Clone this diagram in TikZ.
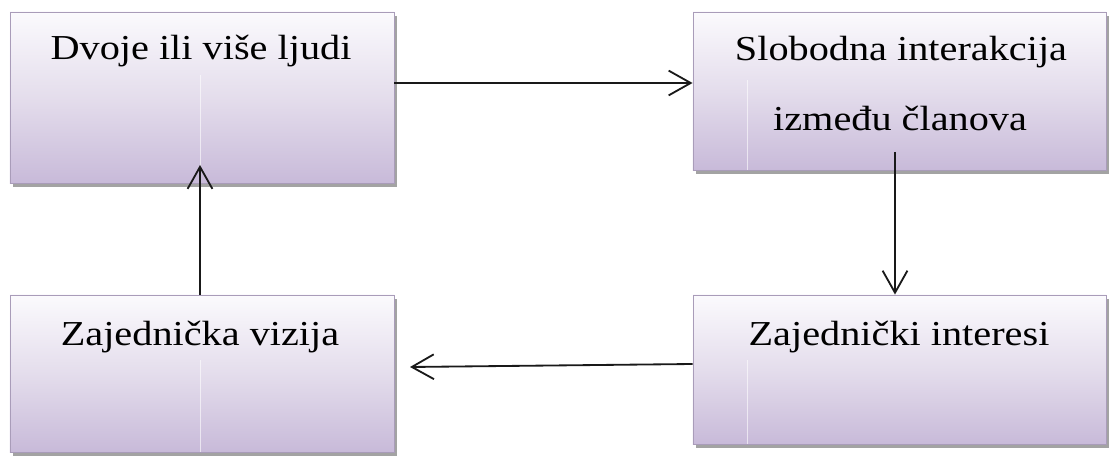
\documentclass[tikz,border=0pt]{standalone}
\usepackage{fontspec}
\setmainfont{Liberation Serif}
\usetikzlibrary{arrows.meta,shadows}
\definecolor{lavtop}{HTML}{FBFAFD}
\definecolor{lavmid}{HTML}{E4DDEC}
\definecolor{lavbot}{HTML}{C8BAD9}
\definecolor{lavline}{HTML}{A99CB9}
\newcommand{\wide}[1]{\scalebox{1.15}[1]{#1}}
\tikzset{
  box/.style={draw=lavline, line width=0.6pt, top color=lavtop, bottom color=lavbot, middle color=lavmid,
    drop shadow={shadow xshift=0.07cm, shadow yshift=-0.1cm, fill=black!45, opacity=0.8}},
  lbl/.style={font=\fontsize{24.9}{49.8}\selectfont, anchor=base, inner sep=0pt},
  arr/.style={-{Straight Barb[length=0.55cm, width=0.62cm, line width=1.3pt]}, line width=1.3pt, black!90},
  seam/.style={white, opacity=0.6, line width=0.5pt}
}
\begin{document}
\begin{tikzpicture}[x=0.025cm, y=-0.025cm]
	\useasboundingbox (0,0) rectangle (1110,457);
	% boxes
	\node[box, minimum width=9.6cm, minimum height=4.275cm, inner sep=0pt] (b1) at (202,97.5) {};
	\node[box, minimum width=10.325cm, minimum height=3.95cm, inner sep=0pt] (b2) at (899.5,91) {};
	\node[box, minimum width=9.6cm, minimum height=3.925cm, inner sep=0pt] (b3) at (202,373.5) {};
	\node[box, minimum width=10.325cm, minimum height=3.725cm, inner sep=0pt] (b4) at (899.5,369.5) {};
	% faint seams
	\draw[seam] (200,75) -- (b1.south -| 200,0);
	\draw[seam] (747,80) -- (b2.south -| 747,0);
	\draw[seam] (200,360) -- (b3.south -| 200,0);
	\draw[seam] (747,360) -- (b4.south -| 747,0);
	% texts
	\node[lbl] (t1) at (201,60) {\wide{Dvoje ili više ljudi}};
	\node[lbl] (t2a) at (901,61) {\wide{Slobodna interakcija}};
	\node[lbl] (t2b) at (900,131) {\wide{između članova}};
	\node[lbl] (t3) at (200,346) {\wide{Zajednička vizija}};
	\node[lbl] (t4) at (899,346) {\wide{Zajednički interesi}};
	% connectors
	\draw[arr] (b1.east |- 0,83) -- (b2.west |- 0,83);
	\draw[arr] (895,152) -- (b4.north -| 895,0);
	\draw[arr] (b4.west |- 0,364) -- (410,367);
	\draw[arr] (b3.north -| 200,0) -- (200,165);
\end{tikzpicture}
\end{document}
